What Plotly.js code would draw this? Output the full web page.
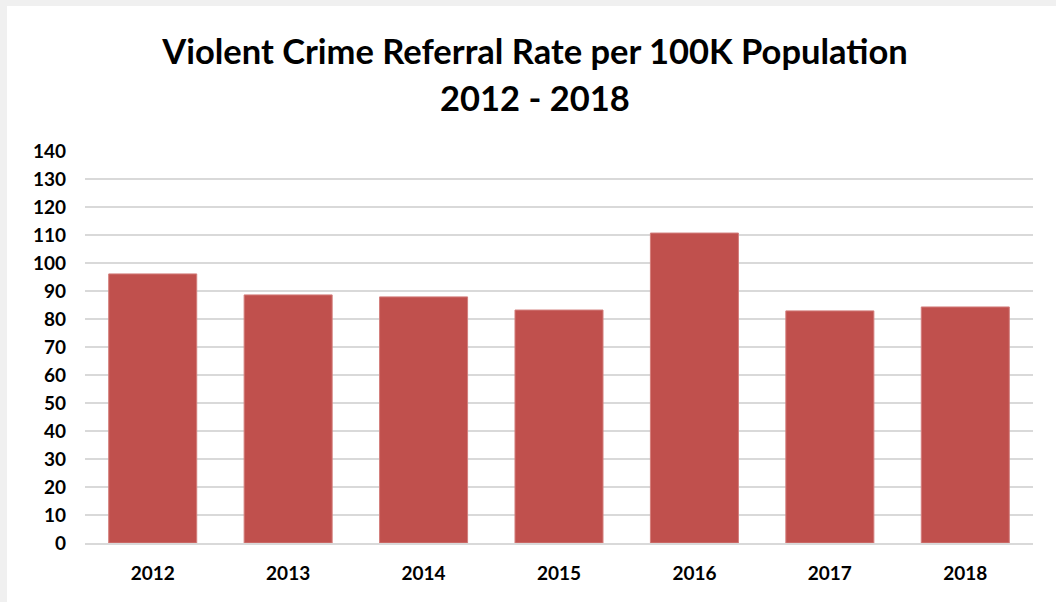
<!DOCTYPE html>
<html>
<head>
<meta charset="utf-8">
<script src="https://cdn.plot.ly/plotly-3.0.1.min.js"></script>
<style>
html,body{margin:0;padding:0;background:#f0f0f0;width:1056px;height:602px;overflow:hidden;}
#chart{position:absolute;left:7px;top:6px;width:1049px;height:596px;background:#fff;}
</style>
</head>
<body>
<div id="chart"></div>
<script>
const years = ['2012','2013','2014','2015','2016','2017','2018'];
const rates = [96.1, 88.6, 87.9, 83.2, 110.7, 82.9, 84.3];
const yTicks = [0,10,20,30,40,50,60,70,80,90,100,110,120,130,140];
const titleLine1 = 'Violent Crime Referral Rate per 100K Population';
const titleLine2 = '2012 - 2018';

const trace = {
  type: 'bar',
  x: years,
  y: rates,
  marker: {color: '#c0504d', line: {color: '#d37e7c', width: 1}},
  hoverinfo: 'x+y'
};

const titleX = (535 - 7) / 1049;

const layout = {
  width: 1049, height: 596,
  paper_bgcolor: '#ffffff', plot_bgcolor: '#ffffff',
  margin: {l: 78, r: 23, t: 145, b: 59},
  bargap: 0.35,
  showlegend: false,
  font: {family: 'Lato, sans-serif', color: '#000'},
  title: {
    text: '<b>' + titleLine1 + '</b>',
    font: {family: 'Lato, sans-serif', size: 34.5, color: '#000'},
    x: titleX, xref: 'container', xanchor: 'center',
    y: 1 - 46/596, yref: 'container', yanchor: 'middle'
  },
  annotations: [{
    text: '<b>' + titleLine2 + '</b>',
    font: {family: 'Lato, sans-serif', size: 34.5, color: '#000'},
    x: (535 - 7 - 78) / 948, xref: 'paper', xanchor: 'center',
    y: 1 + (145-91)/392, yref: 'paper', yanchor: 'middle',
    showarrow: false
  }],
  xaxis: {
    type: 'category',
    tickfont: {family: 'Lato, sans-serif', size: 19, color: '#000', weight: 'bold'},
    showgrid: false, zeroline: false,
    showline: true, linecolor: '#d9d9d9', linewidth: 2,
    ticks: '', ticklabelstandoff: 12
  },
  yaxis: {
    range: [0, 140],
    tickvals: yTicks,
    ticktext: yTicks.map(String),
    tickfont: {family: 'Lato, sans-serif', size: 19, color: '#000', weight: 'bold'},
    showgrid: true, gridcolor: '#d9d9d9', gridwidth: 2,
    zeroline: false, showline: false,
    ticks: '', ticklabelstandoff: 18
  }
};

Plotly.newPlot('chart', [trace], layout, {displayModeBar: false, staticPlot: true});
</script>
</body>
</html>
